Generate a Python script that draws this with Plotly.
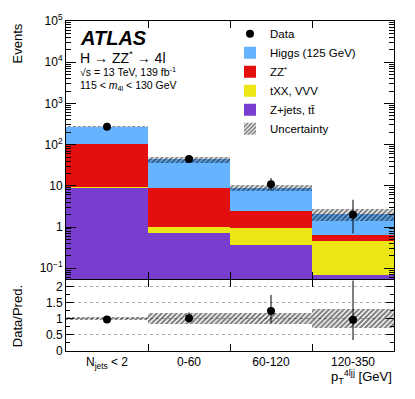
import numpy as np
import plotly.graph_objects as go

# ---------------- data ----------------
bins = ["N<sub>jets</sub> < 2", "0-60", "60-120", "120-350"]
zjets = [9.0, 0.70, 0.37, 0.068]
txx = [0.4, 0.30, 0.57, 0.39]
zz = [95.0, 7.9, 1.56, 0.20]
higgs = [170.0, 35.1, 6.3, 1.4]
unc = [0.05, 0.17, 0.17, 0.30]          # relative uncertainty on prediction
data = [270, 45, 11, 2]
data_up = [16.9, 7.7, 4.4, 2.6]
data_dn = [16.0, 6.7, 3.3, 1.3]

x = np.arange(len(bins)) + 0.5
c1 = np.array(zjets)
c2 = c1 + np.array(txx)
c3 = c2 + np.array(zz)
tot = c3 + np.array(higgs)
u = np.array(unc)

FONT = "Liberation Sans, Arial, Helvetica, sans-serif"
hatch = dict(shape="/", fgcolor="#000", bgcolor="rgba(0,0,0,0)", size=3.5, solidity=0.6)

fig = go.Figure()

# stacked prediction drawn as cumulative sums, largest first
stack = [
    (tot, "Higgs (125 GeV)", "#66b3ff", 2),
    (c3, "ZZ<sup>*</sup>", "#e30f0f", 3),
    (c2, "tXX, VVV", "#ede616", 4),
    (c1, "Z+jets, tt\u0304", "#7a3ecf", 5),
]
for vals, name, col, rank in stack:
    fig.add_trace(go.Bar(x=x, y=vals, width=1, name=name, marker=dict(color=col, line_width=0),
                         legendrank=rank, xaxis="x", yaxis="y"))

fig.add_trace(go.Bar(
    x=x, y=2 * tot * u, base=tot * (1 - u), width=1, name="Uncertainty", legendrank=6,
    marker=dict(color="rgba(0,0,0,0)", line_width=0, pattern=hatch),
    xaxis="x", yaxis="y"))

fig.add_trace(go.Scatter(
    x=x, y=data, mode="markers", name="Data", legendrank=1,
    marker=dict(color="black", size=8),
    error_y=dict(type="data", symmetric=False, array=data_up, arrayminus=data_dn,
                 color="black", thickness=1, width=0),
    xaxis="x", yaxis="y"))

# ratio panel
fig.add_trace(go.Bar(
    x=x, y=2 * u, base=1 - u, width=1, showlegend=False,
    marker=dict(color="rgba(0,0,0,0)", line_width=0, pattern=hatch),
    xaxis="x2", yaxis="y2"))
fig.add_trace(go.Scatter(
    x=x, y=np.array(data) / tot, mode="markers", showlegend=False,
    marker=dict(color="black", size=8),
    error_y=dict(type="data", symmetric=False, array=np.array(data_up) / tot,
                 arrayminus=np.array(data_dn) / tot, color="black", thickness=1, width=0),
    xaxis="x2", yaxis="y2"))

decades = list(range(-1, 6))
major = [10.0 ** k for k in decades]
major_txt = ["10<sup>\u22121</sup>", "1", "10"] + ["10<sup>%d</sup>" % k for k in decades[3:]]
minor = [m * 10.0 ** k for k in range(-2, 5) for m in range(2, 10)]

axline = dict(showline=True, linecolor="black", linewidth=1, mirror="allticks", zeroline=False,
              tickcolor="black", tickfont=dict(size=12, color="black", family=FONT))

fig.update_layout(
    width=415, height=399,
    margin=dict(l=66, r=21, t=15, b=48),
    paper_bgcolor="white", plot_bgcolor="white",
    barmode="overlay", bargap=0,
    font=dict(family=FONT, color="black"),
    xaxis=dict(domain=[0, 1], range=[0, 4], anchor="y", tickvals=list(x), showticklabels=False,
               ticks="", showgrid=False,
               minor=dict(tickvals=[1, 2, 3], ticks="inside", ticklen=7, tickcolor="black"),
               **axline),
    yaxis=dict(domain=[0.217, 1], type="log", range=[-1.27, 5], anchor="x", tickvals=major,
               ticktext=major_txt, ticks="inside", ticklen=10, showgrid=False,
               minor=dict(tickvals=minor, ticks="inside", ticklen=5, tickcolor="black"), **axline),
    xaxis2=dict(domain=[0, 1], range=[0, 4], anchor="y2", tickvals=list(x), ticktext=bins,
                ticks="", showgrid=False,
                minor=dict(tickvals=[1, 2, 3], ticks="inside", ticklen=7, tickcolor="black"),
                **axline),
    yaxis2=dict(domain=[0, 0.214], range=[0, 2.2], anchor="x2", tickvals=[0, 0.5, 1, 1.5, 2],
                ticktext=["0", "0.5", "1", "1.5", "2"], ticks="inside", ticklen=8,
                minor=dict(tickvals=[0.25, 0.75, 1.25, 1.75], ticks="inside", ticklen=4, tickcolor="black"),
                showgrid=True, gridcolor="#aaa", griddash="dot", gridwidth=1, **axline),
    legend=dict(x=0.50, y=1.005, xanchor="left", yanchor="top", bgcolor="rgba(0,0,0,0)",
                font=dict(size=11.5, family=FONT), itemwidth=30, tracegroupgap=0),
    showlegend=True,
)

ann = [
    dict(text="<b><i>ATLAS</i></b>", x=0.038, y=0.948, size=20),
    dict(text="H \u2192 ZZ<sup>*</sup> \u2192 4l", x=0.038, y=0.89, size=14),
    dict(text="\u221As = 13 TeV, 139 fb<sup>-1</sup>", x=0.038, y=0.846, size=10.5),
    dict(text="115 < <i>m</i><sub>4l</sub> < 130 GeV", x=0.038, y=0.803, size=10.5),
]
for a in ann:
    fig.add_annotation(text=a["text"], x=a["x"], y=a["y"], xref="paper", yref="paper",
                       xanchor="left", yanchor="middle", showarrow=False,
                       font=dict(size=a["size"], family=FONT, color="black"))

fig.add_annotation(text="Events", x=-0.148, y=1.0, xref="paper", yref="paper", textangle=-90,
                   xanchor="center", yanchor="top", showarrow=False, font=dict(size=13, family=FONT))
fig.add_annotation(text="Data/Pred.", x=-0.148, y=0.107, xref="paper", yref="paper", textangle=-90,
                   xanchor="center", yanchor="middle", showarrow=False, font=dict(size=13, family=FONT))
fig.add_annotation(text="p<sub>T</sub><sup>4ljj</sup> [GeV]", x=1.0, y=-0.078, xref="paper", yref="paper",
                   xanchor="right", yanchor="middle", showarrow=False, font=dict(size=13, family=FONT))

# the page's default body margin would shift the figure by 8 px
fig.write_html("out.html", config={"displayModeBar": False},
               post_script="document.body.style.margin='0px';")
